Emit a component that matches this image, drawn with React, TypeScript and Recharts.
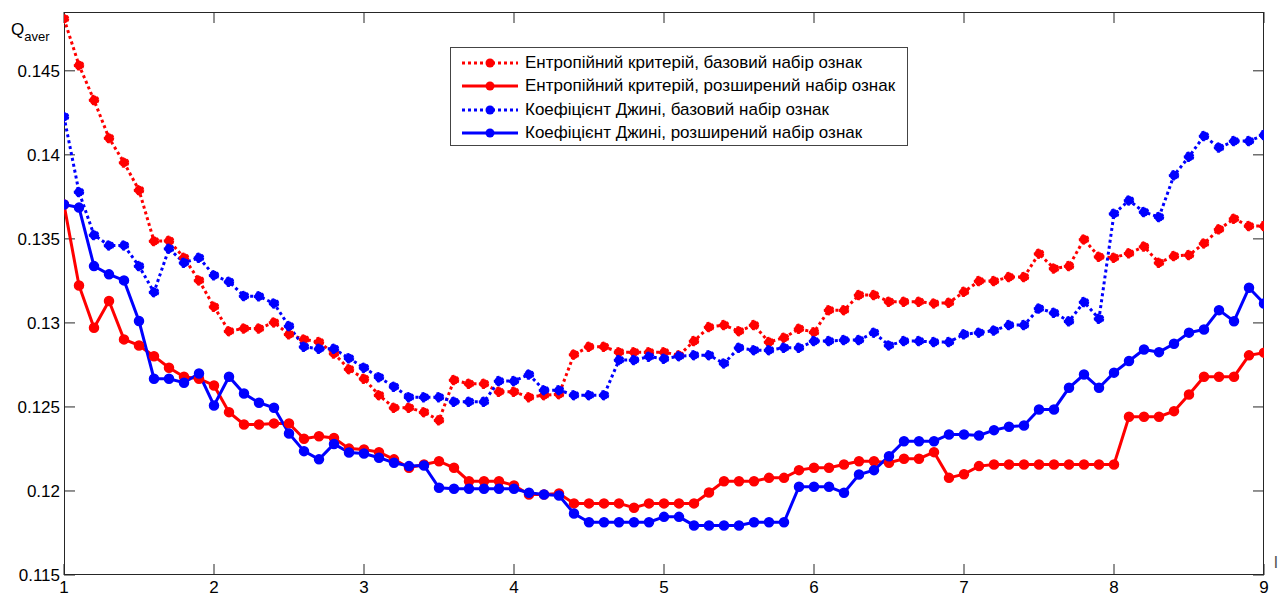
import React from "react";
import { LineChart, Line, XAxis, YAxis } from "recharts";

const xs = [
  1.0, 1.1, 1.2, 1.3, 1.4, 1.5, 1.6, 1.7, 1.8, 1.9,
  2.0, 2.1, 2.2, 2.3, 2.4, 2.5, 2.6, 2.7, 2.8, 2.9,
  3.0, 3.1, 3.2, 3.3, 3.4, 3.5, 3.6, 3.7, 3.8, 3.9,
  4.0, 4.1, 4.2, 4.3, 4.4, 4.5, 4.6, 4.7, 4.8, 4.9,
  5.0, 5.1, 5.2, 5.3, 5.4, 5.5, 5.6, 5.7, 5.8, 5.9,
  6.0, 6.1, 6.2, 6.3, 6.4, 6.5, 6.6, 6.7, 6.8, 6.9,
  7.0, 7.1, 7.2, 7.3, 7.4, 7.5, 7.6, 7.7, 7.8, 7.9,
  8.0, 8.1, 8.2, 8.3, 8.4, 8.5, 8.6, 8.7, 8.8, 8.9,
  9.0,
];

// Ентропійний критерій, базовий набір ознак
const entropyBasic = [
  0.1481, 0.14533, 0.14326, 0.141, 0.13954, 0.1379, 0.13487, 0.13489, 0.13388, 0.13253,
  0.13096, 0.12951, 0.12967, 0.12967, 0.13003, 0.12932, 0.12902, 0.12886, 0.12818, 0.12725,
  0.12668, 0.1257, 0.12495, 0.12495, 0.12469, 0.12421, 0.1266, 0.12638, 0.12638, 0.1259,
  0.1259, 0.12558, 0.1257, 0.12576, 0.12812, 0.12858, 0.12858, 0.12826, 0.12826, 0.12826,
  0.12826, 0.12807, 0.12892, 0.12975, 0.12987, 0.12951, 0.12987, 0.12886, 0.12912, 0.12965,
  0.12945, 0.13076, 0.13076, 0.13166, 0.13166, 0.13126, 0.13126, 0.13126, 0.13116, 0.1312,
  0.13185, 0.13249, 0.13249, 0.13273, 0.13273, 0.13412, 0.13324, 0.13338, 0.13497, 0.13394,
  0.13388, 0.13414, 0.13454, 0.13358, 0.13398, 0.13404, 0.13473, 0.13557, 0.1362, 0.13576,
  0.13576,
];

// Ентропійний критерій, розширений набір ознак
const entropyExtended = [
  0.13705, 0.13223, 0.12971, 0.1313, 0.12902, 0.12866, 0.12802, 0.12733, 0.1268, 0.12668,
  0.12628, 0.12469, 0.12396, 0.12396, 0.12402, 0.12402, 0.12311, 0.12326, 0.12315, 0.12252,
  0.12247, 0.12231, 0.12188, 0.12138, 0.12158, 0.12177, 0.12138, 0.12058, 0.12058, 0.12058,
  0.12033, 0.11979, 0.11979, 0.11985, 0.11926, 0.11926, 0.11926, 0.11926, 0.119, 0.11926,
  0.11926, 0.11926, 0.11926, 0.11991, 0.12058, 0.12058, 0.12058, 0.12078, 0.12078, 0.12124,
  0.12138, 0.12138, 0.12158, 0.12177, 0.12177, 0.12168, 0.12192, 0.12192, 0.12231, 0.12078,
  0.121, 0.12148, 0.12158, 0.12158, 0.12158, 0.12158, 0.12158, 0.12158, 0.12158, 0.12158,
  0.12158, 0.12442, 0.12442, 0.12442, 0.12475, 0.12574, 0.1268, 0.1268, 0.1268, 0.12807,
  0.12823,
];

// Коефіцієнт Джині, базовий набір ознак
const giniBasic = [
  0.14227, 0.13779, 0.13523, 0.13461, 0.13461, 0.13338, 0.13183, 0.13442, 0.13358, 0.13388,
  0.13283, 0.13245, 0.1316, 0.13158, 0.13116, 0.12981, 0.12858, 0.12846, 0.12846, 0.1279,
  0.12733, 0.12677, 0.1262, 0.12558, 0.12558, 0.12558, 0.12531, 0.12531, 0.12531, 0.12654,
  0.12654, 0.12693, 0.126, 0.126, 0.1257, 0.1257, 0.1257, 0.12779, 0.12779, 0.12799,
  0.12787, 0.12802, 0.12808, 0.12808, 0.12759, 0.12852, 0.12838, 0.12838, 0.12852, 0.12852,
  0.12892, 0.12892, 0.12898, 0.12898, 0.12942, 0.12866, 0.12892, 0.12892, 0.12886, 0.12886,
  0.12932, 0.12942, 0.12955, 0.12987, 0.12987, 0.13086, 0.1306, 0.1301, 0.13124, 0.13025,
  0.1365, 0.13729, 0.1366, 0.1363, 0.13878, 0.13989, 0.14112, 0.14043, 0.14082, 0.14082,
  0.14118,
];

// Коефіцієнт Джині, розширений набір ознак
const giniExtended = [
  0.13705, 0.13686, 0.13338, 0.13289, 0.13253, 0.13011, 0.12668, 0.12668, 0.12644, 0.12699,
  0.12509, 0.1268, 0.1258, 0.12525, 0.12495, 0.12342, 0.12237, 0.12188, 0.1228, 0.12229,
  0.12223, 0.12198, 0.12168, 0.12148, 0.12152, 0.12019, 0.12013, 0.12013, 0.12013, 0.12013,
  0.12013, 0.11989, 0.11979, 0.11973, 0.11866, 0.11814, 0.11814, 0.11814, 0.11814, 0.11814,
  0.11846, 0.11846, 0.11795, 0.11795, 0.11795, 0.11795, 0.11814, 0.11814, 0.11814, 0.12025,
  0.12025, 0.12025, 0.11989, 0.12098, 0.12124, 0.12207, 0.12296, 0.12296, 0.12296, 0.12336,
  0.12336, 0.1233, 0.12362, 0.12382, 0.1239, 0.12485, 0.12485, 0.12614, 0.12693, 0.12614,
  0.12704, 0.12773, 0.12842, 0.12826, 0.12876, 0.12942, 0.12961, 0.13076, 0.1301, 0.13209,
  0.13116,
];

const xTicks = [1, 2, 3, 4, 5, 6, 7, 8, 9];
const yTicks = [0.115, 0.12, 0.125, 0.13, 0.135, 0.14, 0.145];

const seriesNames = [
  "Ентропійний критерій, базовий набір ознак",
  "Ентропійний критерій, розширений набір ознак",
  "Коефіцієнт Джині, базовий набір ознак",
  "Коефіцієнт Джині, розширений набір ознак",
];

const RED = "#ff0000";
const BLUE = "#0000ff";
const DOTTED = "3 3";
const FONT = "'Liberation Sans', Arial, sans-serif";
const AXIS = "#262626";
const X_MIN = 1;
const X_MAX = 9;
const Y_MIN = 0.115;
const Y_MAX = 0.1485;

const W = 1278;
const H = 596;
const M = { top: 12, right: 14, bottom: 0, left: 0 };
const Y_AXIS_W = 64;
const X_AXIS_H = 21;
// plot rectangle, same as the one Recharts lays out from the margins above
const PL = M.left + Y_AXIS_W;
const PR = W - M.right;
const PT = M.top;
const PB = H - M.bottom - X_AXIS_H;
const TICK = 11;

const data = xs.map((x, i) => ({
  x,
  eb: entropyBasic[i],
  ee: entropyExtended[i],
  gb: giniBasic[i],
  ge: giniExtended[i],
}));

const series = [
  { key: "eb", name: seriesNames[0], color: RED, dash: DOTTED },
  { key: "ee", name: seriesNames[1], color: RED, dash: undefined },
  { key: "gb", name: seriesNames[2], color: BLUE, dash: DOTTED },
  { key: "ge", name: seriesNames[3], color: BLUE, dash: undefined },
];

const fmt = (v: number) => String(Number(v.toFixed(3)));

// MATLAB-style box with inward ticks on all four sides
function AxesBox() {
  const px = (v: number) => PL + ((v - X_MIN) / (X_MAX - X_MIN)) * (PR - PL);
  const py = (v: number) => PB - ((v - Y_MIN) / (Y_MAX - Y_MIN)) * (PB - PT);
  return (
    <svg width={W} height={H} style={{ position: "absolute", left: 0, top: 0, pointerEvents: "none" }}>
      <rect x={PL + 0.5} y={PT + 0.5} width={PR - PL - 1} height={PB - PT - 1} fill="none" stroke={AXIS} strokeWidth={1} />
      {xTicks.map((t) => (
        <g key={"x" + t}>
          <line x1={px(t)} x2={px(t)} y1={PB} y2={PB - TICK} stroke={AXIS} />
          <line x1={px(t)} x2={px(t)} y1={PT} y2={PT + TICK} stroke={AXIS} />
        </g>
      ))}
      {yTicks.map((t) => (
        <g key={"y" + t}>
          <line x1={PL} x2={PL + TICK} y1={py(t)} y2={py(t)} stroke={AXIS} />
          <line x1={PR} x2={PR - TICK} y1={py(t)} y2={py(t)} stroke={AXIS} />
        </g>
      ))}
    </svg>
  );
}

function LegendBox() {
  return (
    <div
      style={{
        position: "absolute",
        left: 450,
        top: 47,
        border: "1px solid #444",
        background: "#fff",
        width: 456,
        height: 94,
        paddingTop: 3,
        fontFamily: FONT,
        fontSize: 17,
        color: "#000",
      }}
    >
      {series.map((s) => (
        <div key={s.key} style={{ display: "flex", alignItems: "center", height: 23.5 }}>
          <svg width={58} height={14} style={{ marginLeft: 11, flex: "none" }}>
            <line x1={0} y1={7} x2={56} y2={7} stroke={s.color} strokeWidth={3} strokeDasharray={s.dash} />
            <circle cx={28} cy={7} r={4.5} fill={s.color} />
          </svg>
          <span style={{ whiteSpace: "nowrap", marginLeft: 5 }}>{s.name}</span>
        </div>
      ))}
    </div>
  );
}

export default function App() {
  return (
    <div style={{ position: "absolute", left: 0, top: 0, width: W, height: H, background: "#fff", fontFamily: FONT }}>
      <AxesBox />
      <div style={{ position: "absolute", left: 0, top: 0 }}>
        <LineChart width={W} height={H} data={data} margin={M}>
          <XAxis
            dataKey="x"
            type="number"
            domain={[X_MIN, X_MAX]}
            ticks={xTicks}
            allowDataOverflow
            stroke={AXIS}
            axisLine={false}
            tickLine={false}
            tickSize={-11}
            tickMargin={17}
            height={X_AXIS_H}
            tick={{ fill: "#000", fontSize: 17, fontFamily: FONT }}
          />
          <YAxis
            type="number"
            domain={[Y_MIN, Y_MAX]}
            ticks={yTicks}
            allowDataOverflow
            stroke={AXIS}
            axisLine={false}
            tickLine={false}
            width={Y_AXIS_W}
            tickSize={-11}
            tickMargin={15}
            tickFormatter={fmt}
            tick={{ fill: "#000", fontSize: 17, fontFamily: FONT }}
          />
          {series.map((s) => (
            <Line
              key={s.key}
              dataKey={s.key}
              name={s.name}
              stroke={s.color}
              strokeWidth={3}
              strokeDasharray={s.dash}
              dot={{ r: 4.5, fill: s.color, stroke: s.color, strokeWidth: 1.5 }}
              isAnimationActive={false}
            />
          ))}
        </LineChart>
      </div>
      <LegendBox />
      <div style={{ position: "absolute", left: 11, top: 20, fontSize: 17, color: "#000", whiteSpace: "nowrap" }}>
        Q<span style={{ fontSize: 13, position: "relative", top: 6 }}>aver</span>
      </div>
      <div style={{ position: "absolute", left: 1274, top: 553, fontSize: 17, color: "#555" }}>l</div>
    </div>
  );
}
